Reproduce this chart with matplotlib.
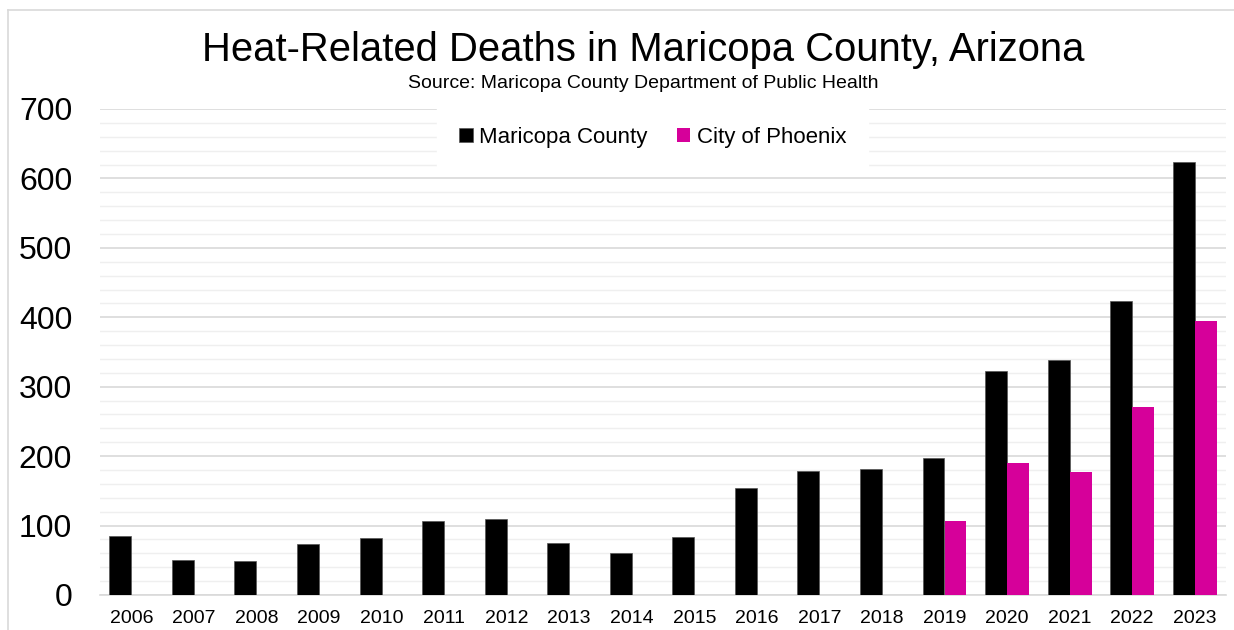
import matplotlib.pyplot as plt
import numpy as np
from matplotlib.lines import Line2D

years = [str(y) for y in range(2006, 2024)]
maricopa = [85, 51, 49, 74, 82, 107, 110, 75, 61, 84, 154, 179, 182, 197, 323, 338, 424, 624]
phoenix_years = ["2019", "2020", "2021", "2022", "2023"]
phoenix = [106, 190, 177, 271, 394]

plt.rcParams['font.family'] = ['Liberation Sans', 'DejaVu Sans']

fig = plt.figure(figsize=(12.34, 6.3), dpi=100)
ax = fig.add_axes([100 / 1234, 1 - 595 / 630, 1126 / 1234, 486 / 630])

x = np.arange(len(years))
w = 0.35
ax.bar(x - w / 2, maricopa, width=w, color='black', edgecolor='#555555',
       linewidth=0.5, label='Maricopa County', zorder=3)
px = np.array([years.index(y) for y in phoenix_years])
ax.bar(px + w / 2, phoenix, width=w, color='#d6009a', label='City of Phoenix', zorder=3)

ax.set_xlim(-0.5, len(years) - 0.5)
ax.set_ylim(0, 700)
ax.set_yticks(range(0, 701, 100))
ax.set_yticks(range(0, 701, 20), minor=True)
ax.set_xticks(x)
ax.set_xticklabels(years)
ax.tick_params(axis='y', which='both', length=0, labelsize=23, pad=20)
ax.tick_params(axis='x', length=0, labelsize=14, pad=11)
ax.grid(axis='y', which='major', color='#d9d9d9', linewidth=1.2, zorder=0)
ax.grid(axis='y', which='minor', color='#efefef', linewidth=1, zorder=0)
for s in ['top', 'right', 'left']:
    ax.spines[s].set_visible(False)
ax.spines['bottom'].set_color('#d9d9d9')
ax.spines['bottom'].set_linewidth(1.2)

leg = ax.legend(loc='center', bbox_to_anchor=(0.491, 1 - 28 / 486), ncol=2, frameon=True,
                fontsize=16, handlelength=0.6, handleheight=0.6, handletextpad=0.3,
                columnspacing=1.3, borderpad=1.0)
leg.get_frame().set_edgecolor('white')
leg.get_frame().set_facecolor('white')
leg.get_frame().set_alpha(1)
leg.get_frame().set_boxstyle('square', pad=0.0)

fig.text(0.521, 1 - 50 / 630, 'Heat-Related Deaths in Maricopa County, Arizona',
         ha='center', va='center', fontsize=28.8)
fig.text(0.521, 1 - 84 / 630, 'Source: Maricopa County Department of Public Health',
         ha='center', va='center', fontsize=14)

# light border around the chart
fig.add_artist(Line2D([8 / 1234, 8 / 1234], [0, 1 - 10 / 630], transform=fig.transFigure,
                      color='#d9d9d9', linewidth=1.2))
fig.add_artist(Line2D([8 / 1234, 1], [1 - 10 / 630, 1 - 10 / 630], transform=fig.transFigure,
                      color='#d9d9d9', linewidth=1.2))

fig.savefig('out.png', dpi=100)
